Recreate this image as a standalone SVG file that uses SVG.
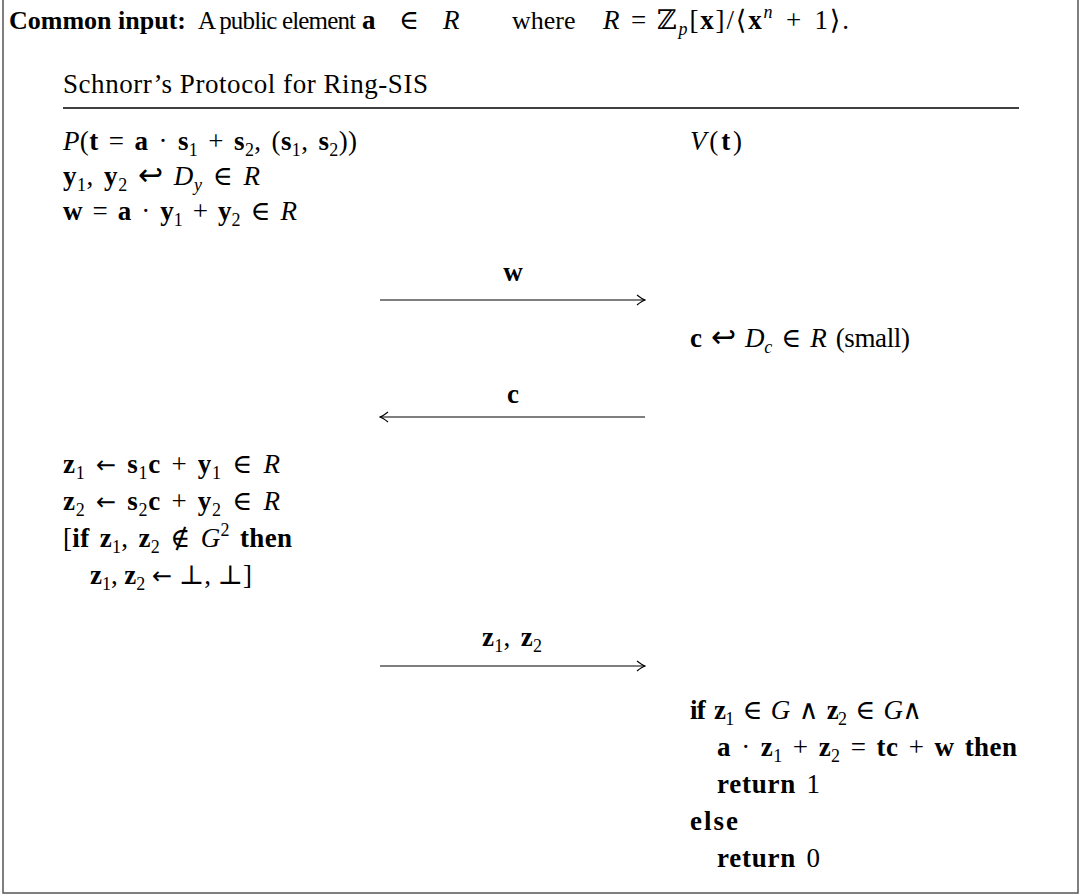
<svg xmlns="http://www.w3.org/2000/svg" width="1080" height="895" viewBox="0 0 1080 895">
<defs>
<style>
.t{font-family:"Liberation Serif","DejaVu Serif",serif;font-size:26px;fill:#000}
.m{font-family:"Liberation Serif","DejaVu Serif",serif;font-size:27px;fill:#000;word-spacing:3px}
.b{font-weight:bold}
.i{font-style:italic}
.s{font-size:18px}
.ar{font-family:"DejaVu Sans",sans-serif;font-size:24px}
.hk{font-family:"DejaVu Sans",sans-serif;font-size:30px}
.ln{stroke:#000;stroke-width:1.2;fill:none}
</style>
<marker id="ah" viewBox="0 0 10 12" refX="9" refY="6" markerWidth="10" markerHeight="12" markerUnits="userSpaceOnUse" orient="auto-start-reverse">
<path d="M1,1 Q6,5 9,6 Q6,7 1,11" fill="none" stroke="#000" stroke-width="1.2"/>
</marker>
</defs>
<rect width="1080" height="895" fill="#fff"/>
<path d="M3,0 V893 H1078 V0" fill="none" stroke="#555" stroke-width="1.5"/>

<g id="common">
<text class="t" x="9" y="29"><tspan class="b">Common input:</tspan></text>
<text class="t" x="198" y="29" style="font-size:25px" textLength="158" lengthAdjust="spacing">A public element</text>
<text class="m" x="362" y="29"><tspan class="b">a</tspan></text>
<text class="m" x="399" y="29">∈</text>
<text class="m" x="443" y="29"><tspan class="i">R</tspan></text>
<text class="t" x="512" y="29">where</text>
<text class="m" x="603" y="29"><tspan class="i">R</tspan></text>
<text class="m" x="631" y="29">=</text>
<text class="m" x="657" y="29" textLength="192" lengthAdjust="spacing">ℤ<tspan class="s i" dy="6">p</tspan><tspan dy="-6">[</tspan><tspan class="b">x</tspan>]/⟨<tspan class="b">x</tspan><tspan class="s i" dy="-11">n</tspan><tspan dy="11"> + 1⟩.</tspan></text>
</g>

<g id="title">
<text class="t" x="63" y="93" style="font-size:27px" textLength="365" lengthAdjust="spacing">Schnorr’s Protocol for Ring-SIS</text>
<line x1="63" y1="108" x2="1019" y2="108" stroke="#000" stroke-width="1.5"/>
</g>

<g id="prover">
<text class="m" x="63" y="150" textLength="294" lengthAdjust="spacing"><tspan class="i">P</tspan>(<tspan class="b">t</tspan> = <tspan class="b">a</tspan> · <tspan class="b">s</tspan><tspan class="s" dy="6">1</tspan><tspan dy="-6"> + </tspan><tspan class="b">s</tspan><tspan class="s" dy="6">2</tspan><tspan dy="-6">, (</tspan><tspan class="b">s</tspan><tspan class="s" dy="6">1</tspan><tspan dy="-6">, </tspan><tspan class="b">s</tspan><tspan class="s" dy="6">2</tspan><tspan dy="-6">))</tspan></text>
<text class="m" x="63" y="185" textLength="197" lengthAdjust="spacing"><tspan class="b">y</tspan><tspan class="s" dy="6">1</tspan><tspan dy="-6">, </tspan><tspan class="b">y</tspan><tspan class="s" dy="6">2</tspan><tspan dy="-6"> </tspan><tspan class="hk">↩</tspan> <tspan class="i">D</tspan><tspan class="s i" dy="6">y</tspan><tspan dy="-6"> ∈ </tspan><tspan class="i">R</tspan></text>
<text class="m" x="63" y="220" textLength="234" lengthAdjust="spacing"><tspan class="b">w</tspan> = <tspan class="b">a</tspan> · <tspan class="b">y</tspan><tspan class="s" dy="6">1</tspan><tspan dy="-6"> + </tspan><tspan class="b">y</tspan><tspan class="s" dy="6">2</tspan><tspan dy="-6"> ∈ </tspan><tspan class="i">R</tspan></text>

<text class="m" x="63" y="473" textLength="217" lengthAdjust="spacing"><tspan class="b">z</tspan><tspan class="s" dy="6">1</tspan><tspan dy="-6"> </tspan><tspan class="ar">←</tspan> <tspan class="b">s</tspan><tspan class="s" dy="6">1</tspan><tspan dy="-6" class="b">c</tspan><tspan> + </tspan><tspan class="b">y</tspan><tspan class="s" dy="6">1</tspan><tspan dy="-6"> ∈ </tspan><tspan class="i">R</tspan></text>
<text class="m" x="63" y="510" textLength="217" lengthAdjust="spacing"><tspan class="b">z</tspan><tspan class="s" dy="6">2</tspan><tspan dy="-6"> </tspan><tspan class="ar">←</tspan> <tspan class="b">s</tspan><tspan class="s" dy="6">2</tspan><tspan dy="-6" class="b">c</tspan><tspan> + </tspan><tspan class="b">y</tspan><tspan class="s" dy="6">2</tspan><tspan dy="-6"> ∈ </tspan><tspan class="i">R</tspan></text>
<text class="m" x="63" y="547" textLength="229" lengthAdjust="spacing">[<tspan class="b">if </tspan><tspan class="b">z</tspan><tspan class="s" dy="6">1</tspan><tspan dy="-6">, </tspan><tspan class="b">z</tspan><tspan class="s" dy="6">2</tspan><tspan dy="-6"> ∉ </tspan><tspan class="i">G</tspan><tspan class="s" dy="-11">2</tspan><tspan dy="11" class="b"> then</tspan></text>
<text class="m" x="90" y="584" textLength="162" lengthAdjust="spacing" style="word-spacing:0"><tspan class="b">z</tspan><tspan class="s" dy="6">1</tspan><tspan dy="-6">, </tspan><tspan class="b">z</tspan><tspan class="s" dy="6">2</tspan><tspan dy="-6"> </tspan><tspan class="ar">←</tspan> ⊥, ⊥]</text>
</g>

<g id="verifier">
<text class="m" x="690" y="150" textLength="52" lengthAdjust="spacing"><tspan class="i">V</tspan>(<tspan class="b">t</tspan>)</text>
<text class="m" x="690" y="347" textLength="220" lengthAdjust="spacing"><tspan class="b">c</tspan> <tspan class="hk">↩</tspan> <tspan class="i">D</tspan><tspan class="s i" dy="6">c</tspan><tspan dy="-6"> ∈ </tspan><tspan class="i">R</tspan> (small)</text>
<text class="m" x="690" y="719" textLength="232" lengthAdjust="spacing"><tspan class="b">if </tspan><tspan class="b">z</tspan><tspan class="s" dy="6">1</tspan><tspan dy="-6"> ∈ </tspan><tspan class="i">G</tspan> ∧ <tspan class="b">z</tspan><tspan class="s" dy="6">2</tspan><tspan dy="-6"> ∈ </tspan><tspan class="i">G</tspan>∧</text>
<text class="m" x="717" y="756" textLength="300" lengthAdjust="spacing"><tspan class="b">a</tspan> · <tspan class="b">z</tspan><tspan class="s" dy="6">1</tspan><tspan dy="-6"> + </tspan><tspan class="b">z</tspan><tspan class="s" dy="6">2</tspan><tspan dy="-6"> = </tspan><tspan class="b">tc</tspan> + <tspan class="b">w then</tspan></text>
<text class="m" x="717" y="793" textLength="103" lengthAdjust="spacing"><tspan class="b">return</tspan> 1</text>
<text class="m" x="690" y="830" textLength="48" lengthAdjust="spacing"><tspan class="b">else</tspan></text>
<text class="m" x="717" y="867" textLength="103" lengthAdjust="spacing"><tspan class="b">return</tspan> 0</text>
</g>

<g id="messages">
<line class="ln" x1="380" y1="300" x2="645" y2="300" marker-end="url(#ah)"/>
<text class="m b" x="513" y="281" text-anchor="middle">w</text>
<line class="ln" x1="645" y1="417" x2="380" y2="417" marker-end="url(#ah)"/>
<text class="m b" x="513" y="403" text-anchor="middle">c</text>
<line class="ln" x1="380" y1="666" x2="645" y2="666" marker-end="url(#ah)"/>
<text class="m" x="482" y="646" textLength="60" lengthAdjust="spacing"><tspan class="b">z</tspan><tspan class="s" dy="6">1</tspan><tspan dy="-6">, </tspan><tspan class="b">z</tspan><tspan class="s" dy="6">2</tspan></text>
</g>
</svg>
